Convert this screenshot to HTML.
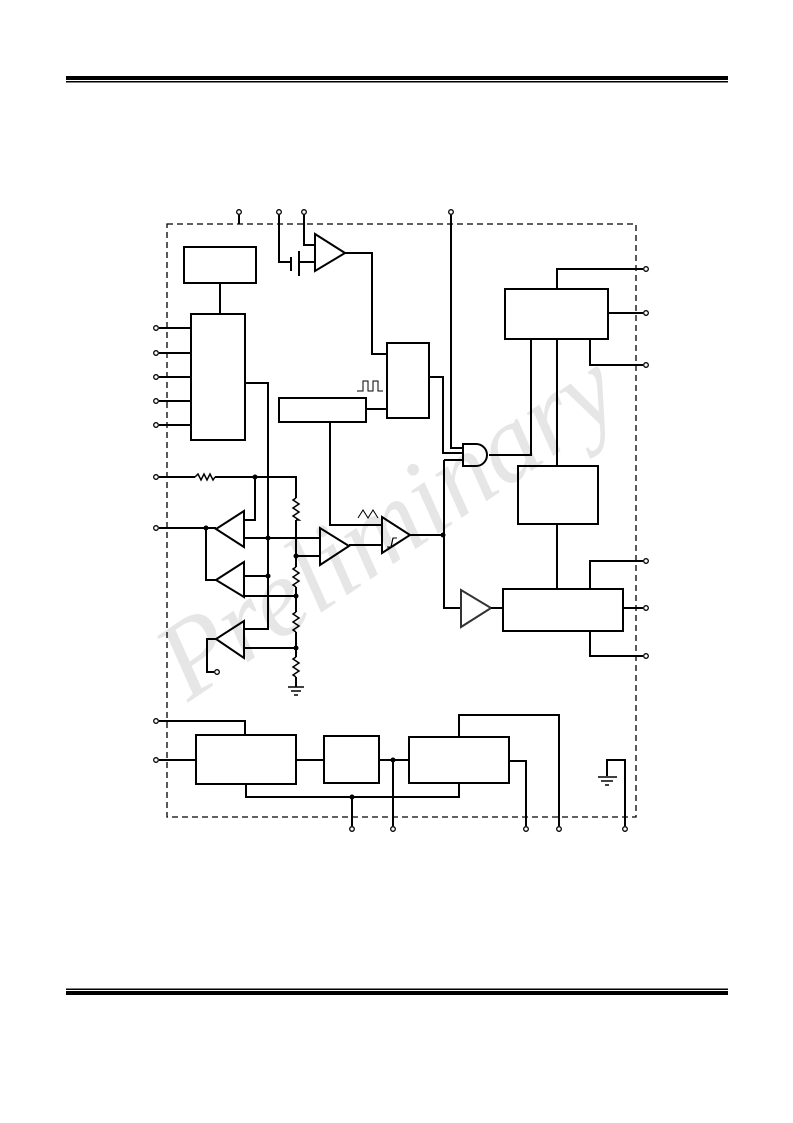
<!DOCTYPE html>
<html><head><style>body{margin:0;background:#fff}svg{display:block}</style></head><body>
<svg width="793" height="1123" viewBox="0 0 793 1123" xmlns="http://www.w3.org/2000/svg">
<text x="390" y="560" transform="rotate(-34 390 530)" text-anchor="middle" font-family="Liberation Serif, serif" font-style="italic" font-size="110" fill="#e6e6e6">Preliminary</text>
<rect x="66" y="76" width="662" height="4" fill="#000"/><rect x="66" y="81" width="662" height="1.5" fill="#000"/>
<rect x="66" y="988.5" width="662" height="1.5" fill="#000"/><rect x="66" y="991" width="662" height="4" fill="#000"/>
<rect x="167" y="224" width="469" height="593" fill="none" stroke="#000" stroke-width="1.3" stroke-dasharray="6,4"/>
<g fill="none" stroke="#000" stroke-width="2">
<path d="M239 215V224M279 215V262H290M304 215V245H315M299 262H315"/>
<path d="M291 257V271M299 251V276"/>
<path d="M315 234L315 271L345 253Z"/>
<path d="M345 253H372V354H387"/>
<rect x="184" y="247" width="72" height="36"/>
<path d="M220 283V314"/>
<rect x="191" y="314" width="54" height="126"/>
<path d="M159 328H191M159 353H191M159 377H191M159 401H191M159 425H191"/>
<path d="M245 383H268V629H244"/>
<rect x="387" y="343" width="42" height="75"/>
<rect x="279" y="398" width="87" height="24"/>
<path d="M366 409H387"/>
<path d="M429 377H443V453H463M451 215V448H463M444 460H463M444 460V608H461"/>
<path d="M463 444H476A11 11 0 0 1 476 466H463Z"/>
<path d="M489 455H531V340"/>
<rect x="505" y="289" width="103" height="50"/>
<path d="M557 289V269H643M608 313H643M590 339V365H643M557 339V466"/>
<rect x="518" y="466" width="80" height="58"/>
<path d="M557 524V589"/>
<rect x="503" y="589" width="120" height="42"/>
<path d="M590 589V561H643M623 608H643M590 631V656H643"/>
<path d="M461 590L461 627L491 608Z" stroke="#333"/>
<path d="M491 608H503"/>
<path d="M382 517L382 553L410 535Z"/>
<path d="M410 535H443"/>
<path d="M330 422V525H382M349 545H382"/>
<path d="M320 528L320 565L349 546Z"/>
<path d="M159 477H195M215 477H296V498"/>
<path d="M195 477l3 -3l3 6l3 -6l3 6l3 -6l3 6l2 -3" stroke-width="1.5"/>
<path d="M296 498l-3 2l6 4l-6 4l6 4l-6 4l6 4l-3 0" stroke-width="1.5"/>
<path d="M296 520V567M296 587V612M296 632V657M296 677V687"/>
<path d="M296 567l-3 2l6 4l-6 4l6 4l-6 4l3 2M296 612l-3 2l6 4l-6 4l6 4l-6 4l3 2M296 657l-3 2l6 4l-6 4l6 4l-6 4l3 2" stroke-width="1.5"/>
<path d="M288 687H304M291 691H301M294 695H298" stroke-width="1.5"/>
<path d="M244 511L244 547L216 529Z"/>
<path d="M244 562L244 597L216 580Z"/>
<path d="M244 621L244 658L216 639Z"/>
<path d="M159 528H216M206 528V580H216"/>
<path d="M244 520H255V477M244 538H320M296 556H320"/>
<path d="M244 576H268M244 596H296M244 648H296"/>
<path d="M216 639H207V672H214"/>
<path d="M159 721H245V735M159 760H196"/>
<rect x="196" y="735" width="100" height="49"/>
<path d="M296 760H324"/>
<rect x="324" y="736" width="55" height="47"/>
<path d="M379 760H409M393 760V826"/>
<rect x="409" y="737" width="100" height="46"/>
<path d="M509 761H526V826M459 737V715H559V826"/>
<path d="M246 784V797H459V783M352 797V826"/>
<path d="M607 776V760H625V826"/>
<path d="M598 777H617M601 781H613M605 785H609" stroke-width="1.5"/>
</g>
<g fill="#000"><circle cx="255" cy="477" r="2.5"/><circle cx="206" cy="528" r="2.5"/><circle cx="268" cy="538" r="2.5"/><circle cx="268" cy="576" r="2.5"/><circle cx="296" cy="556" r="2.5"/><circle cx="296" cy="596" r="2.5"/><circle cx="296" cy="648" r="2.5"/><circle cx="443" cy="535" r="2.5"/><circle cx="393" cy="760" r="2.5"/><circle cx="352" cy="797" r="2.5"/></g>
<g fill="#fff" stroke="#000" stroke-width="1.3">
<circle cx="239" cy="212" r="2.3"/><circle cx="279" cy="212" r="2.3"/><circle cx="304" cy="212" r="2.3"/><circle cx="451" cy="212" r="2.3"/>
<circle cx="156" cy="328" r="2.3"/><circle cx="156" cy="353" r="2.3"/><circle cx="156" cy="377" r="2.3"/><circle cx="156" cy="401" r="2.3"/><circle cx="156" cy="425" r="2.3"/><circle cx="156" cy="477" r="2.3"/><circle cx="156" cy="528" r="2.3"/><circle cx="217" cy="672" r="2.3"/><circle cx="156" cy="721" r="2.3"/><circle cx="156" cy="760" r="2.3"/>
<circle cx="646" cy="269" r="2.3"/><circle cx="646" cy="313" r="2.3"/><circle cx="646" cy="365" r="2.3"/><circle cx="646" cy="561" r="2.3"/><circle cx="646" cy="608" r="2.3"/><circle cx="646" cy="656" r="2.3"/>
<circle cx="352" cy="829" r="2.3"/><circle cx="393" cy="829" r="2.3"/><circle cx="526" cy="829" r="2.3"/><circle cx="559" cy="829" r="2.3"/><circle cx="625" cy="829" r="2.3"/>
</g>
<g fill="none" stroke="#000" stroke-width="1">
<path d="M357 391H363V381H368V391H373V381H378V391H383"/>
<path d="M358 518L363 510L368 518L373 510L378 518"/>
<path d="M387 547H391L393 538H397"/><path d="M391 547L393 538"/>
</g>
</svg>
</body></html>
